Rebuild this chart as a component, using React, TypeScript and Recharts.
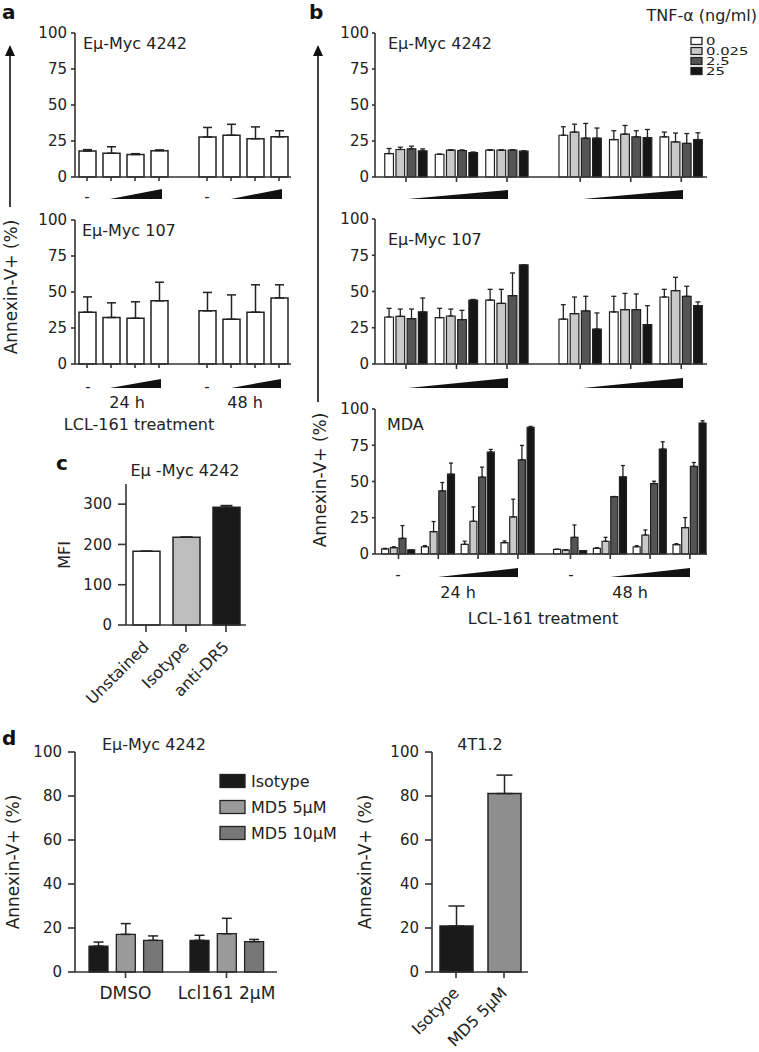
import React from 'react'
import { BarChart, Bar, XAxis, YAxis, ErrorBar, Cell } from 'recharts'

const FONT = '"DejaVu Sans", Arial, sans-serif'
const INK = '#222'
const AXIS = '#333'

// panel a: LCL-161 alone, 4 doses at 24 h then 4 doses at 48 h
const aTimes = ['24 h', '48 h']
const a4242Mean = [18, 16.5, 15.6, 18.3, 27.8, 29, 26.6, 27.9]
const a4242Err = [1, 4.5, 0.6, 0.5, 6.6, 7.6, 8.2, 4.2]
const a107Mean = [36, 32.3, 31.8, 43.9, 36.9, 31.1, 36, 45.9]
const a107Err = [10.6, 10.2, 11.4, 12.9, 12.8, 16.9, 19, 9.1]

// panel b: TNF-α doses inside each LCL-161 group
const tnfDoses = ['0', '0.025', '2.5', '25']
const tnfColors = ['#ffffff', '#c9c9c9', '#545454', '#161616']

const b4242Mean = [
  [16.3, 19.1, 19.5, 18.1],
  [15.8, 18.6, 18.4, 17.0],
  [18.6, 18.6, 18.6, 17.9],
  [29.0, 31.2, 27.0, 27.0],
  [26.0, 29.8, 27.9, 27.4],
  [27.9, 24.4, 23.3, 26.0],
]
const b4242Err = [
  [3.5, 1.6, 1.9, 1.4],
  [0, 0.3, 0.4, 0.3],
  [0.3, 0.3, 0.3, 0.3],
  [5.9, 5.5, 10.2, 7.0],
  [6.1, 6.0, 4.2, 5.6],
  [3.3, 6.1, 6.9, 4.7],
]
const b107Mean = [
  [32.4, 32.9, 31.3, 35.9],
  [32.0, 33.1, 30.6, 44.1],
  [44.1, 41.8, 47.1, 68.3],
  [31.0, 34.7, 36.6, 24.1],
  [35.9, 37.5, 37.5, 27.1],
  [46.2, 50.6, 46.7, 40.2],
]
const b107Err = [
  [6.0, 5.0, 6.6, 9.6],
  [6.4, 4.8, 6.4, 0.4],
  [7.4, 9.7, 15.7, 0],
  [9.9, 11.5, 10.1, 11.1],
  [10.8, 11.2, 10.8, 13.1],
  [5.3, 9.2, 6.9, 2.6],
]
const mdaMean = [
  [3.5, 4.4, 10.8, 2.8],
  [5.0, 15.4, 43.5, 55.1],
  [6.7, 22.6, 53.0, 70.3],
  [7.8, 25.6, 65.0, 87.3],
  [3.2, 2.8, 11.5, 2.3],
  [3.9, 8.8, 39.6, 53.2],
  [5.0, 13.1, 48.6, 72.4],
  [6.5, 18.2, 60.4, 90.3],
]
const mdaErr = [
  [0.4, 0.6, 8.8, 0],
  [0.8, 7.0, 5.8, 7.6],
  [2.1, 9.9, 6.9, 1.8],
  [1.2, 12.2, 9.9, 0.7],
  [0, 0, 8.5, 0],
  [0.5, 2.7, 0, 7.8],
  [0.7, 3.5, 1.6, 5.0],
  [0.6, 6.9, 2.7, 1.6],
]

// panel c: DR5 surface staining
const cStains = ['Unstained', 'Isotype', 'anti-DR5']
const cMfi = [183, 218, 292.5]
const cMfiErr = [0, 0, 4]
const cColors = ['#ffffff', '#bdbdbd', '#1a1a1a']

// panel d
const dTreatments = ['DMSO', 'Lcl161 2μM']
const dAntibodies = ['Isotype', 'MD5 5μM', 'MD5 10μM']
const dColors = ['#1a1a1a', '#9a9a9a', '#777777']
const d4242Mean = [
  [11.8, 17.1, 14.4],
  [14.4, 17.4, 13.8],
]
const d4242Err = [
  [1.8, 4.9, 2.0],
  [2.3, 7.0, 1.0],
]
const d4T1Labels = ['Isotype', 'MD5 5μM']
const d4T1Mean = [20.9, 81.1]
const d4T1Err = [9.1, 8.4]
const d4T1Colors = ['#1a1a1a', '#8e8e8e']

type Rect = { x: number; y: number; w: number; h: number }
const MT = 10
const MR = 10
const YW = 60

const tickFont = { fill: INK, fontSize: 15, fontFamily: FONT }
const axisLine = { stroke: AXIS, strokeWidth: 1.6 }
const tickLine = { stroke: AXIS, strokeWidth: 1.6 }

function Plot({ r, xh = 30, barGap = 4, data, children }: {
  r: Rect; xh?: number; barGap?: number; data: any[]; children: React.ReactNode
}) {
  return (
    <div style={{ position: 'absolute', left: r.x - YW, top: r.y - MT }}>
      <BarChart
        width={r.w + YW + MR}
        height={r.h + MT + xh}
        data={data}
        margin={{ top: MT, right: MR, bottom: 0, left: 0 }}
        barGap={barGap}
        style={{ overflow: 'visible' }}
      >
        {children}
      </BarChart>
    </div>
  )
}

function yAxis(domain: number[], ticks: number[], size: number, margin: number) {
  return (
    <YAxis
      width={YW}
      domain={domain}
      ticks={ticks}
      interval={0}
      tick={tickFont}
      tickSize={size}
      tickMargin={margin}
      axisLine={axisLine}
      tickLine={tickLine}
    />
  )
}

function numXAxis(domain: number[], ticks: number[], size: number) {
  return (
    <XAxis
      dataKey="pos"
      type="number"
      domain={domain}
      ticks={ticks}
      interval={0}
      allowDataOverflow
      tickFormatter={() => ''}
      tickSize={size}
      axisLine={axisLine}
      tickLine={tickLine}
      height={30}
    />
  )
}

function SlantTick({ x, y, payload, fontSize }: any) {
  return (
    <g transform={`translate(${x + 4},${y + 14})`}>
      <text transform="rotate(-45)" textAnchor="end" fill={INK} fontSize={fontSize} fontFamily={FONT}>
        {payload.value}
      </text>
    </g>
  )
}

// single-series rows for panel a: second time point shifted by one empty slot
function aRows(mean: number[], err: number[]) {
  return mean.map((v, i) => ({ pos: i + (i >= 4 ? 1 : 0), v, e: [0, err[i]] }))
}

function tnfRows(mean: number[][], err: number[][], gap: number) {
  const half = mean.length / 2
  return mean.map((m, i) => {
    const row: Record<string, any> = { pos: i + (i >= half ? gap : 0) }
    m.forEach((v, k) => {
      row['s' + k] = v
      row['e' + k] = [0, err[i][k]]
    })
    return row
  })
}

function PanelA({ r, mean, err }: { r: Rect; mean: number[]; err: number[] }) {
  const rows = aRows(mean, err)
  return (
    <Plot r={r} data={rows}>
      {numXAxis([-0.5, 8.5], rows.map((d) => d.pos), 4)}
      {yAxis([0, 100], [0, 25, 50, 75, 100], 4, 4)}
      <Bar dataKey="v" fill="#fff" stroke={INK} strokeWidth={1.5} barSize={17} isAnimationActive={false}>
        <ErrorBar dataKey="e" width={4.5} stroke={INK} strokeWidth={1.5} direction="y" />
      </Bar>
    </Plot>
  )
}

function PanelTnf({ r, mean, err, gap, domain, barSize, barGap, cap }: {
  r: Rect; mean: number[][]; err: number[][]; gap: number; domain: number[]
  barSize: number; barGap: number; cap: number
}) {
  const rows = tnfRows(mean, err, gap)
  return (
    <Plot r={r} data={rows} barGap={barGap}>
      {numXAxis(domain, rows.map((d) => d.pos), 5)}
      {yAxis([0, 100], [0, 25, 50, 75, 100], 3, 3)}
      {tnfDoses.map((dose, k) => (
        <Bar
          key={dose}
          name={dose}
          dataKey={'s' + k}
          fill={tnfColors[k]}
          stroke={INK}
          strokeWidth={1.2}
          barSize={barSize}
          isAnimationActive={false}
        >
          <ErrorBar dataKey={'e' + k} width={cap} stroke={INK} strokeWidth={1.3} direction="y" />
        </Bar>
      ))}
    </Plot>
  )
}

function Wedge({ x1, x2, top, bottom }: { x1: number; x2: number; top: number; bottom: number }) {
  return <polygon points={`${x1},${bottom} ${x2},${top} ${x2},${bottom}`} fill="#111" />
}

function Arrow({ x, top, bottom }: { x: number; top: number; bottom: number }) {
  return (
    <g>
      <line x1={x} x2={x} y1={top + 8} y2={bottom} stroke="#111" strokeWidth={1.6} />
      <polygon points={`${x},${top} ${x - 5},${top + 11} ${x + 5},${top + 11}`} fill="#111" />
    </g>
  )
}

function VLabel({ x, y, text, size = 17 }: { x: number; y: number; text: string; size?: number }) {
  return (
    <text
      transform={`translate(${x},${y}) rotate(-90)`}
      textAnchor="middle"
      dominantBaseline="central"
      fontSize={size}
    >
      {text}
    </text>
  )
}

export default function App() {
  const cRows = cStains.map((name, i) => ({ name, v: cMfi[i], e: [0, cMfiErr[i]] }))
  const dRows = dTreatments.map((group, i) => {
    const row: Record<string, any> = { group }
    dAntibodies.forEach((_, k) => {
      row['s' + k] = d4242Mean[i][k]
      row['e' + k] = [0, d4242Err[i][k]]
    })
    return row
  })
  const d2Rows = d4T1Labels.map((name, i) => ({ name, v: d4T1Mean[i], e: [0, d4T1Err[i]] }))

  return (
    <div style={{ position: 'absolute', left: 0, top: 0, width: 759, height: 1052, background: '#fff', fontFamily: FONT, overflow: 'hidden' }}>
      <PanelA r={{ x: 75, y: 33, w: 216, h: 144 }} mean={a4242Mean} err={a4242Err} />
      <PanelA r={{ x: 75, y: 220, w: 216, h: 144 }} mean={a107Mean} err={a107Err} />

      <PanelTnf
        r={{ x: 375, y: 33, w: 332, h: 144 }}
        mean={b4242Mean} err={b4242Err} gap={0.45} domain={[-0.614, 5.96]}
        barSize={8.7} barGap={2.5} cap={2.5}
      />
      <PanelTnf
        r={{ x: 375, y: 219, w: 332, h: 145 }}
        mean={b107Mean} err={b107Err} gap={0.45} domain={[-0.614, 5.96]}
        barSize={8.7} barGap={2.5} cap={2.5}
      />
      <PanelTnf
        r={{ x: 375, y: 409, w: 332, h: 145 }}
        mean={mdaMean} err={mdaErr} gap={0.32} domain={[-0.59, 7.75]}
        barSize={7} barGap={1.7} cap={2}
      />

      <Plot r={{ x: 126, y: 484, w: 120, h: 141 }} data={cRows} xh={100}>
        <XAxis
          dataKey="name"
          interval={0}
          tick={<SlantTick fontSize={16} />}
          tickSize={7}
          tickMargin={2}
          axisLine={axisLine}
          tickLine={tickLine}
          height={100}
        />
        {yAxis([0, 350], [0, 100, 200, 300], 8, 6)}
        <Bar dataKey="v" stroke={INK} strokeWidth={1.5} barSize={27} isAnimationActive={false}>
          {cRows.map((d, i) => (
            <Cell key={d.name} fill={cColors[i]} />
          ))}
          <ErrorBar dataKey="e" width={6} stroke={INK} strokeWidth={1.5} direction="y" />
        </Bar>
      </Plot>

      <Plot r={{ x: 75, y: 752, w: 202, h: 220 }} data={dRows} barGap={8.3} xh={50}>
        <XAxis
          dataKey="group"
          interval={0}
          tick={{ ...tickFont, fontSize: 17 }}
          tickSize={6}
          tickMargin={9}
          axisLine={axisLine}
          tickLine={tickLine}
          height={50}
        />
        {yAxis([0, 100], [0, 20, 40, 60, 80, 100], 7, 6)}
        {dAntibodies.map((ab, k) => (
          <Bar
            key={ab}
            name={ab}
            dataKey={'s' + k}
            fill={dColors[k]}
            stroke={INK}
            strokeWidth={1.3}
            barSize={19}
            isAnimationActive={false}
          >
            <ErrorBar dataKey={'e' + k} width={5} stroke={INK} strokeWidth={1.5} direction="y" />
          </Bar>
        ))}
      </Plot>

      <Plot r={{ x: 432, y: 752, w: 96, h: 220 }} data={d2Rows} xh={100}>
        <XAxis
          dataKey="name"
          interval={0}
          tick={<SlantTick fontSize={16} />}
          tickSize={6}
          tickMargin={2}
          axisLine={axisLine}
          tickLine={tickLine}
          height={100}
        />
        {yAxis([0, 100], [0, 20, 40, 60, 80, 100], 7, 6)}
        <Bar dataKey="v" stroke={INK} strokeWidth={1.5} barSize={33} isAnimationActive={false}>
          {d2Rows.map((d, i) => (
            <Cell key={d.name} fill={d4T1Colors[i]} />
          ))}
          <ErrorBar dataKey="e" width={8} stroke={INK} strokeWidth={1.5} direction="y" />
        </Bar>
      </Plot>

      <svg
        width={759}
        height={1052}
        style={{ position: 'absolute', left: 0, top: 0, pointerEvents: 'none' }}
        fontFamily={FONT}
        fill={INK}
      >
        {/* panel letters */}
        <g fontWeight="bold" fontSize={20} fill="#111">
          <text x={2} y={19}>a</text>
          <text x={309} y={19}>b</text>
          <text x={56} y={470}>c</text>
          <text x={2} y={745}>d</text>
        </g>

        {/* panel a */}
        <text x={83} y={49} fontSize={16}>Eμ-Myc 4242</text>
        <text x={82} y={236} fontSize={16}>Eμ-Myc 107</text>
        <Arrow x={10} top={45} bottom={207} />
        <VLabel x={11} y={287} text="Annexin-V+ (%)" />
        <text x={87} y={202} fontSize={15} textAnchor="middle">-</text>
        <text x={207} y={202} fontSize={15} textAnchor="middle">-</text>
        <Wedge x1={110} x2={162} top={189} bottom={199} />
        <Wedge x1={231} x2={282} top={189} bottom={199} />
        <text x={88} y={392} fontSize={15} textAnchor="middle">-</text>
        <text x={207} y={392} fontSize={15} textAnchor="middle">-</text>
        <Wedge x1={110} x2={161} top={379} bottom={388} />
        <Wedge x1={231} x2={281} top={379} bottom={388} />
        <text x={127} y={408} fontSize={16} textAnchor="middle">{aTimes[0]}</text>
        <text x={245} y={408} fontSize={16} textAnchor="middle">{aTimes[1]}</text>
        <text x={139} y={430} fontSize={16} textAnchor="middle">LCL-161 treatment</text>

        {/* panel b */}
        <text x={388} y={49} fontSize={16}>Eμ-Myc 4242</text>
        <text x={388} y={245} fontSize={16}>Eμ-Myc 107</text>
        <text x={387} y={430} fontSize={16}>MDA</text>
        <Arrow x={318} top={45} bottom={402} />
        <VLabel x={320} y={480} text="Annexin-V+ (%)" />
        <Wedge x1={408} x2={508} top={190} bottom={199} />
        <Wedge x1={583} x2={683} top={190} bottom={199} />
        <Wedge x1={408} x2={508} top={378} bottom={388} />
        <Wedge x1={583} x2={683} top={378} bottom={388} />
        <text x={398} y={580} fontSize={15} textAnchor="middle">-</text>
        <text x={571} y={580} fontSize={15} textAnchor="middle">-</text>
        <Wedge x1={438} x2={518} top={568} bottom={577} />
        <Wedge x1={610} x2={690} top={568} bottom={577} />
        <text x={458} y={598} fontSize={16} textAnchor="middle">{aTimes[0]}</text>
        <text x={630} y={598} fontSize={16} textAnchor="middle">{aTimes[1]}</text>
        <text x={543} y={624} fontSize={16} textAnchor="middle">LCL-161 treatment</text>

        {/* TNF legend: glyphs are wide and short in the figure */}
        <text x={757} y={21} fontSize={16} textAnchor="end">TNF-α (ng/ml)</text>
        {tnfDoses.map((dose, k) => (
          <g key={dose}>
            <rect x={691} y={37.5 + k * 10} width={11} height={7} fill={tnfColors[k]} stroke={INK} strokeWidth={1.3} />
            <text transform={`translate(706,${45 + k * 10}) scale(1.35,1)`} fontSize={11}>{dose}</text>
          </g>
        ))}

        {/* panel c */}
        <text x={185} y={476} fontSize={16} textAnchor="middle">Eμ -Myc 4242</text>
        <VLabel x={64} y={555} text="MFI" size={16} />

        {/* panel d */}
        <text x={102} y={750} fontSize={16}>Eμ-Myc 4242</text>
        <VLabel x={13} y={862} text="Annexin-V+ (%)" />
        {dAntibodies.map((ab, k) => (
          <g key={ab}>
            <rect x={220} y={774.5 + k * 26} width={25} height={13} fill={dColors[k]} stroke={INK} strokeWidth={1.3} />
            <text x={251} y={781 + k * 26} fontSize={16} dominantBaseline="central">{ab}</text>
          </g>
        ))}
        <text x={480} y={750} fontSize={16} textAnchor="middle">4T1.2</text>
        <VLabel x={365} y={862} text="Annexin-V+ (%)" />
      </svg>
    </div>
  )
}
